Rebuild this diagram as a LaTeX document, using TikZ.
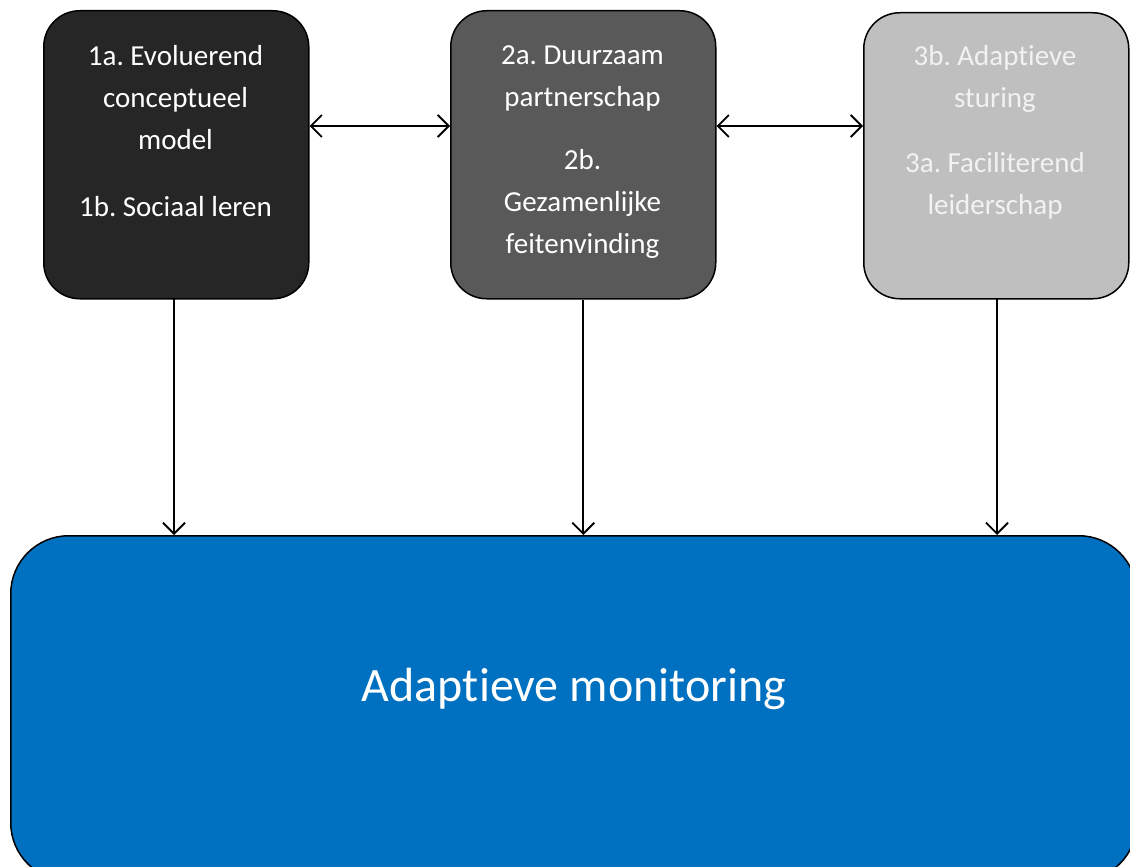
\documentclass[tikz,border=0pt]{standalone}
\usepackage{fontspec}
\setmainfont{Carlito}[Ligatures={NoCommon}]
\usetikzlibrary{arrows.meta}
\frenchspacing
\definecolor{boxA}{HTML}{262626}
\definecolor{boxB}{HTML}{595959}
\definecolor{boxC}{HTML}{BFBFBF}
\definecolor{txtC}{HTML}{F2F2F2}
\definecolor{mainblue}{HTML}{0070C0}
\tikzset{
  topbox/.style={draw=black, line width=1.5pt, rounded corners=36pt, minimum width=265pt, minimum height=288pt, inner sep=0pt, anchor=north west},
  boxtext/.style={anchor=north, align=center, inner sep=0pt, font=\fontsize{29}{42}\selectfont},
  conn/.style={line width=1.8pt, -{Straight Barb[length=11pt,width=22pt,line width=1.8pt]}},
  dconn/.style={line width=1.8pt, {Straight Barb[length=11pt,width=22pt,line width=1.8pt]}-{Straight Barb[length=11pt,width=22pt,line width=1.8pt]}}
}
\begin{document}
\begin{tikzpicture}[x=1pt,y=-1pt]
\useasboundingbox (0,0) rectangle (1130,867);
\clip (0,0) rectangle (1130,867);
\node[topbox, fill=boxA] (b1) at (43,10) {};
\node[topbox, fill=boxB] (b2) at (450,10) {};
\node[topbox, fill=boxC, minimum height=286pt] (b3) at (863,12) {};
\node[draw=black, line width=1.5pt, fill=mainblue, rounded corners=58pt, minimum width=1126pt, minimum height=345pt, anchor=north west, inner sep=0pt] (m) at (10,535) {};
\node[boxtext, text=white] (t1) at (175.5,45) {1a. Evoluerend\\conceptueel\\model\\[25pt]1b. Sociaal leren};
\node[boxtext, text=white] (t2) at (582.5,45) {2a. Duurzaam\\partnerschap\\[21pt]2b.\\Gezamenlijke\\feitenvinding};
\node[boxtext, text=txtC] (t3) at (995,45) {3b. Adaptieve\\sturing\\[23pt]3a. Faciliterend\\leiderschap};
\node[text=white, font=\fontsize{48}{56}\selectfont, inner sep=0pt] (tm) at (574,689) {Adaptieve monitoring};
\coordinate (h) at (0,126);
\draw[dconn] (b1.east |- h) -- (b2.west |- h);
\draw[dconn] (b2.east |- h) -- (b3.west |- h);
\draw[conn] (174,298) -- (174,535);
\draw[conn] (b2.south) -- (b2.south |- m.north);
\draw[conn] (997,298) -- (997,535);
\end{tikzpicture}
\end{document}
